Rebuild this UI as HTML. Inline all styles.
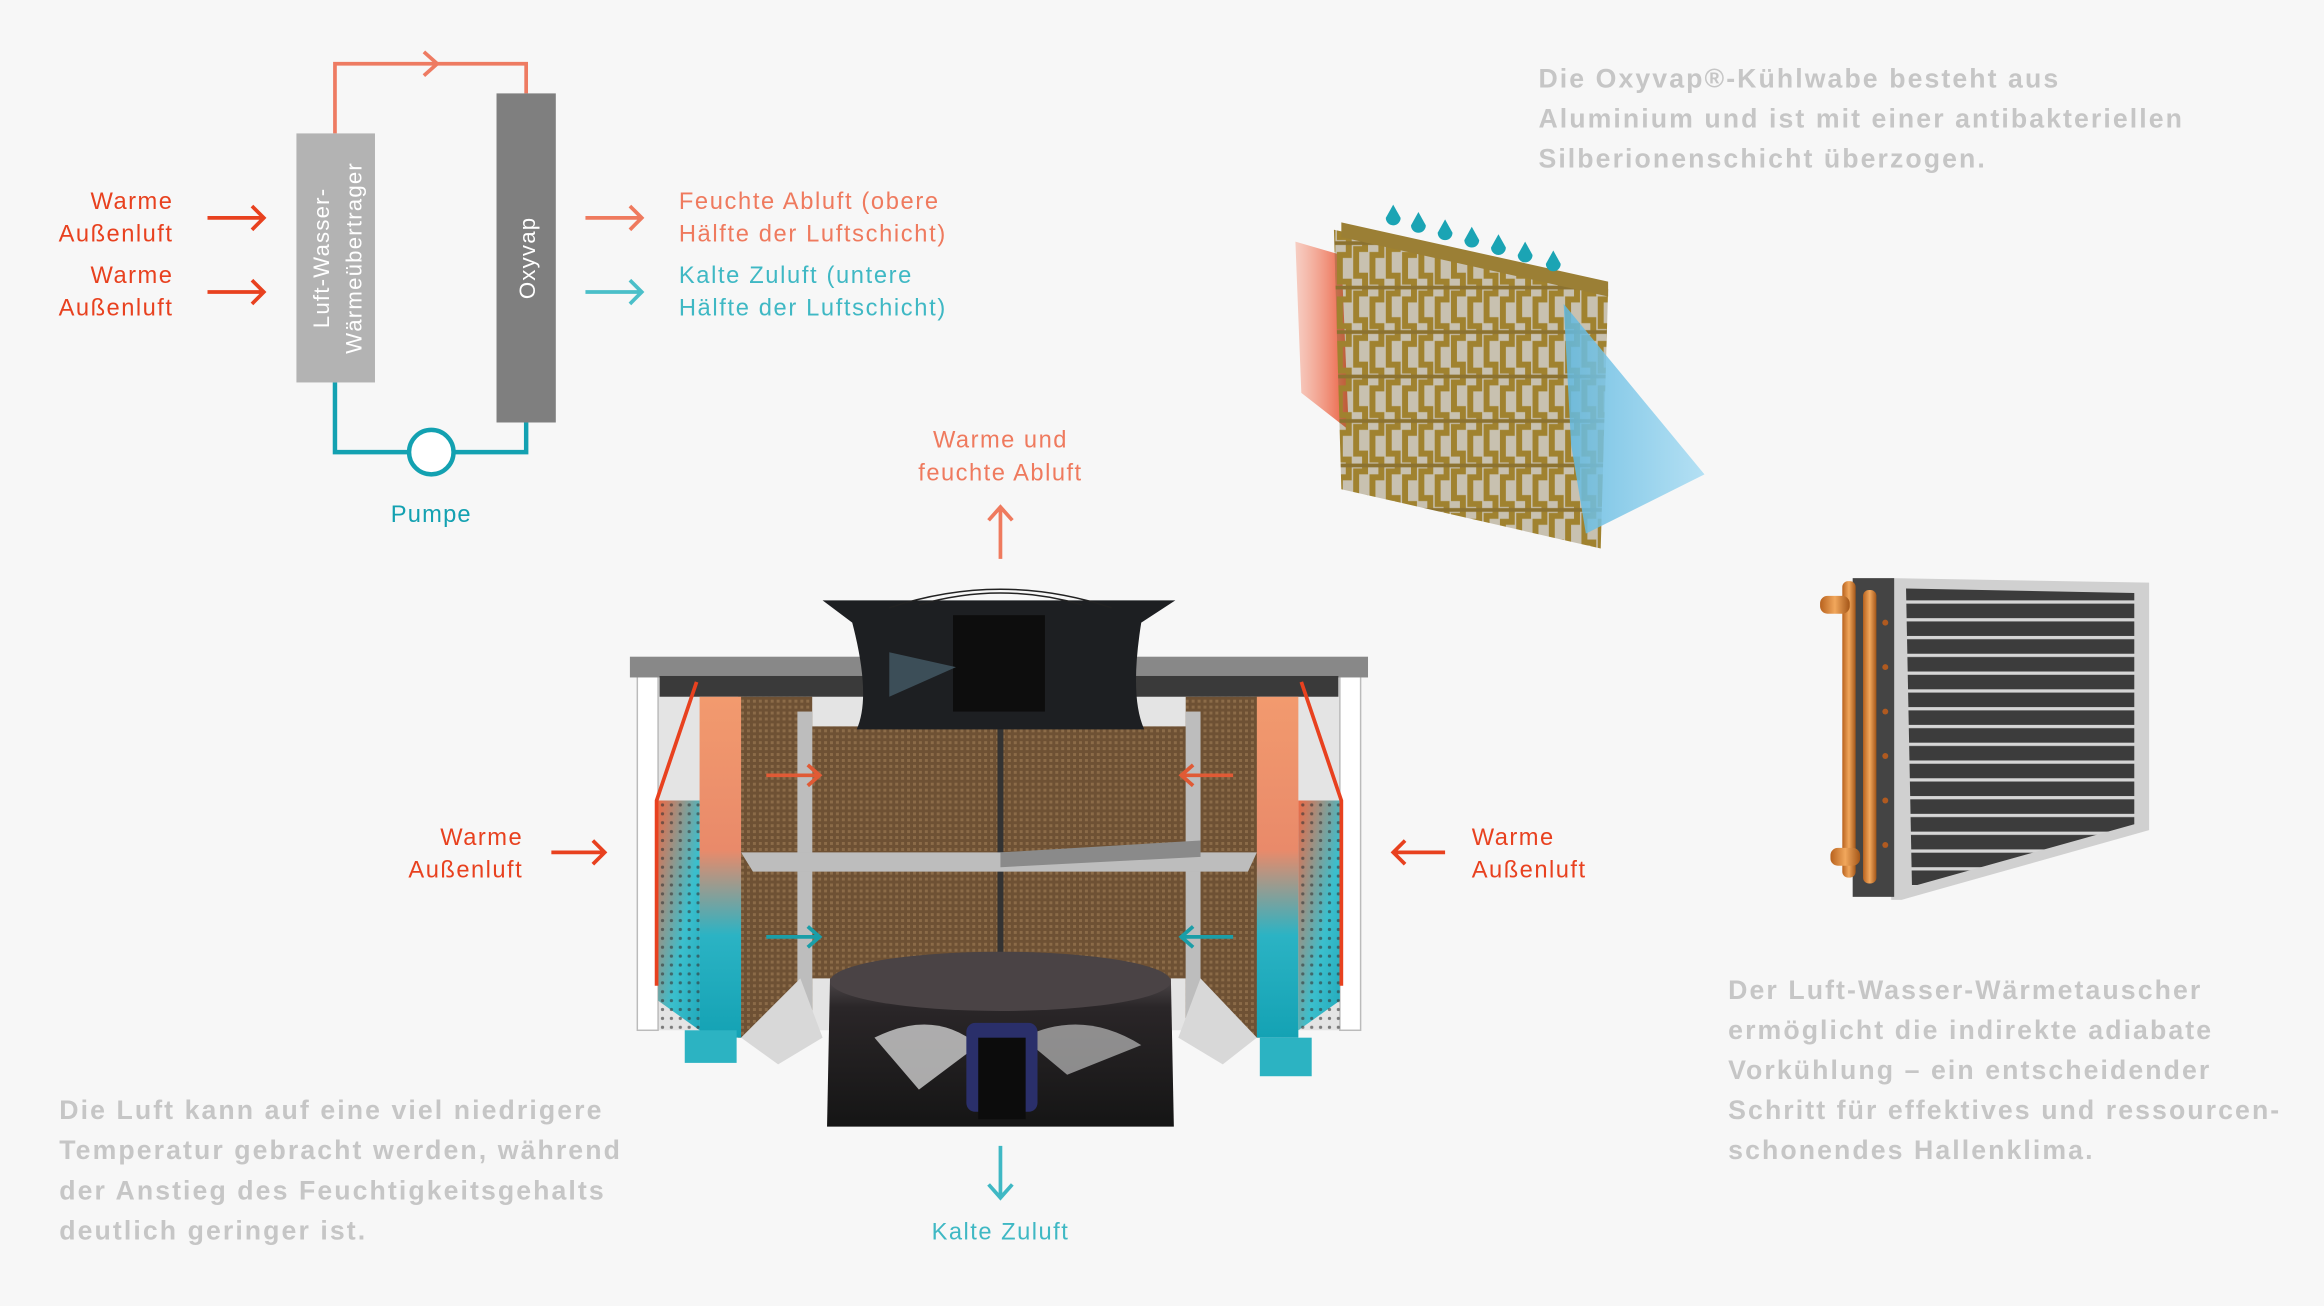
<!DOCTYPE html>
<html><head><meta charset="utf-8"><style>
html,body{margin:0;padding:0;background:#f7f7f7;}
svg{display:block;}
text{font-family:"Liberation Sans",sans-serif;}
</style></head><body>
<svg width="2324" height="1306" viewBox="0 0 1568 881" preserveAspectRatio="none" xmlns="http://www.w3.org/2000/svg">
<defs>
<linearGradient id="redfade" x1="0" x2="1"><stop offset="0" stop-color="#f6a58f" stop-opacity="0.5"/><stop offset="1" stop-color="#ea5a3a"/></linearGradient>
<linearGradient id="bluefade" x1="0" x2="1"><stop offset="0" stop-color="#5fb8e0"/><stop offset="1" stop-color="#a8dcf3"/></linearGradient>
<linearGradient id="stackL" x1="0" y1="0" x2="0" y2="1"><stop offset="0" stop-color="#f29a6e"/><stop offset="0.45" stop-color="#e98a6a"/><stop offset="0.7" stop-color="#2bb3c4"/><stop offset="1" stop-color="#14a2b4"/></linearGradient>
<linearGradient id="perfL" x1="0" y1="0" x2="1" y2="1"><stop offset="0" stop-color="#ee6a45"/><stop offset="0.6" stop-color="#3bbfcd"/><stop offset="1" stop-color="#21a9bb"/></linearGradient>
<linearGradient id="fanB" x1="0" y1="0" x2="0" y2="1"><stop offset="0" stop-color="#6a6264"/><stop offset="0.3" stop-color="#2a2628"/><stop offset="1" stop-color="#151515"/></linearGradient>
<linearGradient id="copper" x1="0" x2="1"><stop offset="0" stop-color="#b8621e"/><stop offset="0.5" stop-color="#f1a75c"/><stop offset="1" stop-color="#a45618"/></linearGradient>
<pattern id="pad" width="4" height="4" patternUnits="userSpaceOnUse"><rect width="4" height="4" fill="#6e5134"/><rect width="2" height="2" fill="#8b6b48"/></pattern>
<pattern id="dots" width="6" height="6" patternUnits="userSpaceOnUse"><circle cx="3" cy="3" r="1.1" fill="#333" opacity="0.6"/></pattern>
<pattern id="fins" width="10" height="12" patternUnits="userSpaceOnUse"><rect width="10" height="12" fill="#3c3c3c"/><rect y="9" width="10" height="2.2" fill="#d6d6d6"/></pattern>
<pattern id="honey" width="22" height="30" patternUnits="userSpaceOnUse"><rect width="22" height="30" fill="#6e5a2a" opacity="0.35"/><path d="M2 0 V10 H8 V22 H2 V30 M13 0 V6 H19 V18 H13 V30" stroke="#a0822f" stroke-width="4" fill="none"/><path d="M0 14 H22" stroke="#8c7230" stroke-width="2.5"/></pattern>
</defs>
<rect width="1568" height="881" fill="#f7f7f7"/>

<!-- Top schematic -->
<polyline points="226,90 226,43 355,43 355,63" fill="none" stroke="#ee7b62" stroke-width="2.5"/>
<polyline points="286,35 295,43 286,51" fill="none" stroke="#ee7b62" stroke-width="2.5"/>
<polyline points="226,258 226,305 355,305 355,285" fill="none" stroke="#13a1b1" stroke-width="3"/>
<circle cx="291" cy="305" r="15" fill="#fff" stroke="#13a1b1" stroke-width="3"/>
<rect x="200" y="90" width="53" height="168" fill="#b3b3b3"/>
<rect x="335" y="63" width="40" height="222" fill="#7f7f7f"/>
<text transform="translate(222,174) rotate(-90)" text-anchor="middle" fill="#fff" font-size="15" letter-spacing="0.8">Luft-Wasser-</text>
<text transform="translate(244,174) rotate(-90)" text-anchor="middle" fill="#fff" font-size="15" letter-spacing="0.8">Wärmeübertrager</text>
<text transform="translate(361,174) rotate(-90)" text-anchor="middle" fill="#fff" font-size="15" letter-spacing="0.8">Oxyvap</text>
<text x="291" y="352" text-anchor="middle" fill="#13a1b1" font-size="16" letter-spacing="0.8">Pumpe</text>

<g fill="#e8411f" font-size="16" text-anchor="end" letter-spacing="1">
<text x="117" y="141">Warme</text><text x="117" y="163">Außenluft</text>
<text x="117" y="191">Warme</text><text x="117" y="213">Außenluft</text>
</g>
<g stroke="#e8411f" stroke-width="2.5" fill="none">
<path d="M140 147 H177 M170 139 L178 147 L170 155"/>
<path d="M140 197 H177 M170 189 L178 197 L170 205"/>
</g>
<path d="M395 147 H432 M425 139 L433 147 L425 155" stroke="#ef7a5e" stroke-width="2.5" fill="none"/>
<path d="M395 197 H432 M425 189 L433 197 L425 205" stroke="#4bbfc9" stroke-width="2.5" fill="none"/>
<g font-size="16" letter-spacing="1.1">
<text x="458" y="141" fill="#ef7a5e">Feuchte Abluft (obere</text>
<text x="458" y="163" fill="#ef7a5e">Hälfte der Luftschicht)</text>
<text x="458" y="191" fill="#3fb8c4">Kalte Zuluft (untere</text>
<text x="458" y="213" fill="#3fb8c4">Hälfte der Luftschicht)</text>
</g>

<!-- Grey texts -->
<g fill="#c6c6c6" font-size="18" font-weight="bold" letter-spacing="1.4">
<text x="1038" y="59">Die Oxyvap®-Kühlwabe besteht aus</text>
<text x="1038" y="86">Aluminium und ist mit einer antibakteriellen</text>
<text x="1038" y="113">Silberionenschicht überzogen.</text>
<text x="1166" y="674">Der Luft-Wasser-Wärmetauscher</text>
<text x="1166" y="701">ermöglicht die indirekte adiabate</text>
<text x="1166" y="728">Vorkühlung – ein entscheidender</text>
<text x="1166" y="755">Schritt für effektives und ressourcen-</text>
<text x="1166" y="782">schonendes Hallenklima.</text>
<text x="40" y="755">Die Luft kann auf eine viel niedrigere</text>
<text x="40" y="782">Temperatur gebracht werden, während</text>
<text x="40" y="809">der Anstieg des Feuchtigkeitsgehalts</text>
<text x="40" y="836">deutlich geringer ist.</text>
</g>

<!-- Honeycomb -->
<polygon points="874,163 905,172 910,290 878,265" fill="url(#redfade)"/>
<polygon points="900,155 1085,195 1080,370 905,330" fill="url(#honey)"/>
<polygon points="905,150 1085,190 1085,200 905,160" fill="#9b7f35"/>
<polygon points="1055,205 1150,320 1070,360 1060,300" fill="url(#bluefade)" opacity="0.85"/>
<g fill="#1ba4b4">
<path d="M940 138 l-5 9 a5 5 0 1 0 10 0z"/><path d="M957 143 l-5 9 a5 5 0 1 0 10 0z"/>
<path d="M975 148 l-5 9 a5 5 0 1 0 10 0z"/><path d="M993 153 l-5 9 a5 5 0 1 0 10 0z"/>
<path d="M1011 158 l-5 9 a5 5 0 1 0 10 0z"/><path d="M1029 163 l-5 9 a5 5 0 1 0 10 0z"/>
<path d="M1048 169 l-5 9 a5 5 0 1 0 10 0z"/>
</g>

<!-- Heat exchanger -->
<polygon points="1276,390 1450,393 1450,560 1283,607 1276,607" fill="#d0d0d0"/>
<polygon points="1286,397 1440,400 1440,556 1290,598" fill="url(#fins)"/>
<rect x="1250" y="390" width="28" height="215" fill="#444"/>
<rect x="1243" y="392" width="9" height="200" rx="4" fill="url(#copper)"/>
<rect x="1257" y="398" width="9" height="198" rx="4" fill="url(#copper)"/>
<rect x="1228" y="402" width="20" height="12" rx="5" fill="url(#copper)"/>
<rect x="1235" y="572" width="20" height="12" rx="5" fill="url(#copper)"/>
<g fill="#b05a20"><circle cx="1272" cy="420" r="2"/><circle cx="1272" cy="450" r="2"/><circle cx="1272" cy="480" r="2"/><circle cx="1272" cy="510" r="2"/><circle cx="1272" cy="540" r="2"/><circle cx="1272" cy="570" r="2"/></g>

<!-- Machine labels -->
<g font-size="16" letter-spacing="1">
<text x="675" y="302" text-anchor="middle" fill="#ef7a5e">Warme und</text>
<text x="675" y="324" text-anchor="middle" fill="#ef7a5e">feuchte Abluft</text>
<text x="675" y="836" text-anchor="middle" fill="#3fb8c4">Kalte Zuluft</text>
<text x="353" y="570" text-anchor="end" fill="#e8411f">Warme</text>
<text x="353" y="592" text-anchor="end" fill="#e8411f">Außenluft</text>
<text x="993" y="570" fill="#e8411f">Warme</text>
<text x="993" y="592" fill="#e8411f">Außenluft</text>
</g>
<path d="M675 377 V343 M667 351 L675 342 L683 351" stroke="#ef7a5e" stroke-width="2.5" fill="none"/>
<path d="M675 773 V807 M667 799 L675 808 L683 799" stroke="#3fb8c4" stroke-width="2.5" fill="none"/>
<path d="M372 575 H407 M400 567 L408 575 L400 583" stroke="#e8411f" stroke-width="2.5" fill="none"/>
<path d="M975 575 H941 M948 567 L940 575 L948 583" stroke="#e8411f" stroke-width="2.5" fill="none"/>

<!-- Machine -->
<rect x="430" y="455" width="488" height="240" fill="#e4e4e4"/>
<rect x="430" y="455" width="14" height="240" fill="#fff" stroke="#bbb"/>
<rect x="904" y="455" width="14" height="240" fill="#fff" stroke="#bbb"/>
<rect x="425" y="443" width="498" height="14" fill="#888"/>
<rect x="445" y="456" width="458" height="14" fill="#3a3a3a"/>
<rect x="498" y="470" width="50" height="230" fill="url(#pad)"/>
<rect x="800" y="470" width="50" height="230" fill="url(#pad)"/>
<rect x="548" y="490" width="252" height="170" fill="url(#pad)"/>
<rect x="673" y="490" width="4" height="170" fill="#333"/>
<rect x="538" y="480" width="10" height="210" fill="#bdbdbd"/>
<rect x="800" y="480" width="10" height="210" fill="#bdbdbd"/>
<polygon points="500,575 848,575 842,588 508,588" fill="#bdbdbd"/>
<polygon points="675,575 810,567 810,578 675,585" fill="#8a8a8a"/>
<polygon points="472,470 500,470 500,700 472,700" fill="url(#stackL)"/>
<polygon points="444,540 472,540 472,695 444,675" fill="url(#perfL)"/>
<rect x="444" y="540" width="28" height="155" fill="url(#dots)"/>
<polyline points="470,460 443,540 443,665" fill="none" stroke="#e8411f" stroke-width="2.5"/>
<rect x="462" y="695" width="35" height="22" fill="#2cb3c2"/>
<polygon points="848,470 876,470 876,700 848,700" fill="url(#stackL)"/>
<polygon points="876,540 904,540 904,675 876,695" fill="url(#perfL)"/>
<rect x="876" y="540" width="28" height="155" fill="url(#dots)"/>
<polyline points="878,460 905,540 905,665" fill="none" stroke="#e8411f" stroke-width="2.5"/>
<rect x="850" y="700" width="35" height="26" fill="#2cb3c2"/>
<path d="M517 523 H553 M545 516 L553 523 L545 530" stroke="#e05a35" stroke-width="2.5" fill="none"/>
<path d="M832 523 H797 M805 516 L797 523 L805 530" stroke="#e05a35" stroke-width="2.5" fill="none"/>
<path d="M517 632 H553 M545 625 L553 632 L545 639" stroke="#1a9ea8" stroke-width="2.5" fill="none"/>
<path d="M832 632 H797 M805 625 L797 632 L805 639" stroke="#1a9ea8" stroke-width="2.5" fill="none"/>
<path d="M555 405 L793 405 L770 420 Q762 470 772 492 L578 492 Q588 470 575 420 Z" fill="#1d1f22"/>
<rect x="643" y="415" width="62" height="65" fill="#0d0d0d"/>
<path d="M600 410 Q675 385 750 410" fill="none" stroke="#222" stroke-width="1"/>
<path d="M620 408 Q675 392 730 408" fill="none" stroke="#222" stroke-width="1"/>
<path d="M600 440 L645 450 L600 470 Z" fill="#3c4e58"/>
<path d="M560 660 Q675 630 790 660 L792 760 L558 760 Z" fill="url(#fanB)"/>
<ellipse cx="675" cy="662" rx="115" ry="20" fill="#4a4345"/>
<path d="M590 700 Q630 680 660 705 L620 735 Z" fill="#cfcfcf" opacity="0.8"/>
<path d="M690 700 Q730 680 770 705 L720 725 Z" fill="#bcbcbc" opacity="0.7"/>
<rect x="652" y="690" width="48" height="60" rx="6" fill="#2a2f6a"/>
<rect x="660" y="700" width="32" height="55" fill="#0c0c0c"/>
<polygon points="500,700 540,660 555,700 525,718" fill="#d8d8d8"/>
<polygon points="848,700 810,660 795,700 825,718" fill="#d8d8d8"/>
</svg>
</body></html>
